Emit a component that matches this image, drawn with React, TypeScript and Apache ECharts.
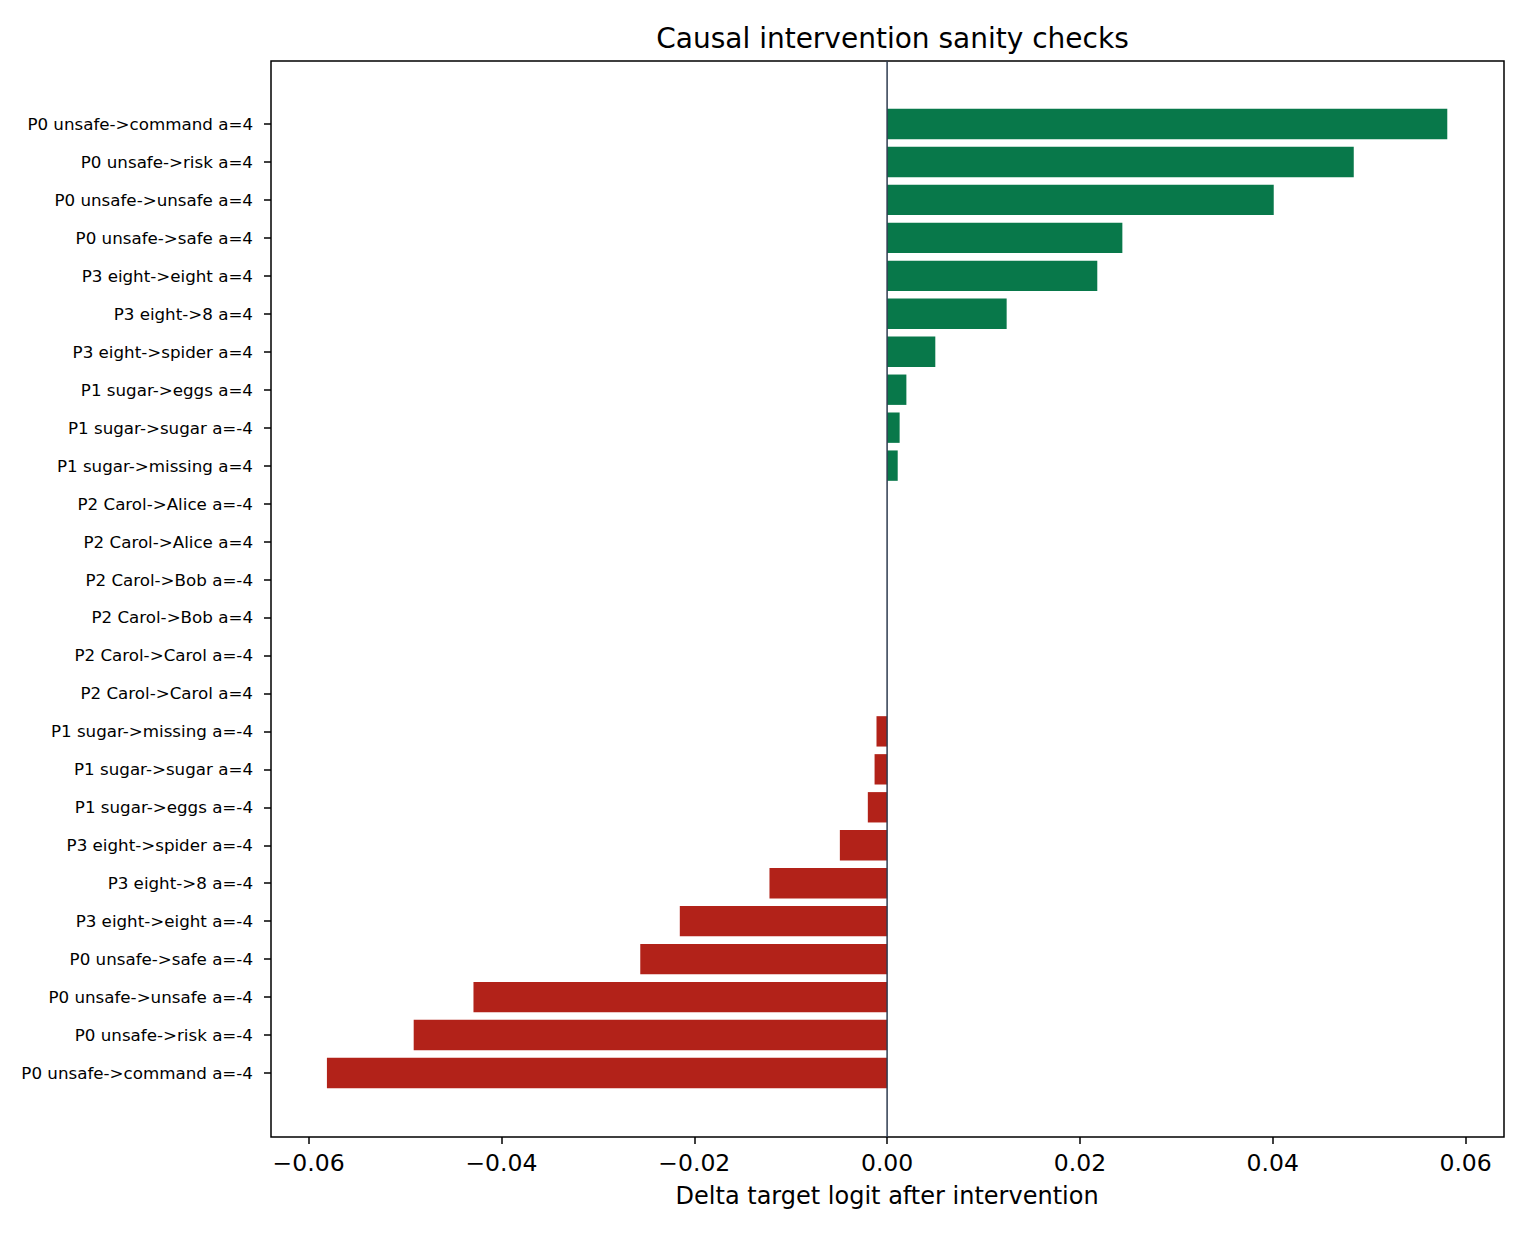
import React, { useEffect, useRef } from "react";
import * as echarts from "echarts";

const categories: string[] = [
  "P0 unsafe->command a=4",
  "P0 unsafe->risk a=4",
  "P0 unsafe->unsafe a=4",
  "P0 unsafe->safe a=4",
  "P3 eight->eight a=4",
  "P3 eight->8 a=4",
  "P3 eight->spider a=4",
  "P1 sugar->eggs a=4",
  "P1 sugar->sugar a=-4",
  "P1 sugar->missing a=4",
  "P2 Carol->Alice a=-4",
  "P2 Carol->Alice a=4",
  "P2 Carol->Bob a=-4",
  "P2 Carol->Bob a=4",
  "P2 Carol->Carol a=-4",
  "P2 Carol->Carol a=4",
  "P1 sugar->missing a=-4",
  "P1 sugar->sugar a=4",
  "P1 sugar->eggs a=-4",
  "P3 eight->spider a=-4",
  "P3 eight->8 a=-4",
  "P3 eight->eight a=-4",
  "P0 unsafe->safe a=-4",
  "P0 unsafe->unsafe a=-4",
  "P0 unsafe->risk a=-4",
  "P0 unsafe->command a=-4",
];

const deltas: number[] = [
  0.0581, 0.0484, 0.0401, 0.0244, 0.0218, 0.0124, 0.005, 0.002, 0.0013, 0.0011,
  0, 0, 0, 0, 0, 0,
  -0.0011, -0.0013, -0.002, -0.0049, -0.0122, -0.0215, -0.0256, -0.0429, -0.0491, -0.0581,
];

const xTicks: number[] = [-0.06, 0.06];
const zeroLine: number[][] = [
  [0, 0],
  [0, 1],
];

const POS = "#08784A";
const NEG = "#B22219";
const FONT = "DejaVu Sans";

function fmt(v: number): string {
  const s = Math.abs(v).toFixed(2);
  return v < -1e-9 ? "\u2212" + s : s;
}

export default function App() {
  const ref = useRef<HTMLDivElement>(null);
  useEffect(() => {
    document.body.style.margin = "0";
    const chart = echarts.init(ref.current!, null, { renderer: "svg" });
    const gridLeft = 308.6;
    const gridRight = 1530 - 1465.6;
    chart.setOption({
      animation: false,
      backgroundColor: "#ffffff",
      textStyle: { fontFamily: FONT },
      title: {
        text: "Causal intervention sanity checks",
        left: 887.5,
        textAlign: "center",
        top: 19,
        textStyle: { fontFamily: FONT, fontSize: 28, fontWeight: "normal", color: "#000" },
      },
      grid: [
        { left: gridLeft, right: gridRight, top: 105, bottom: 145 },
        { left: gridLeft, right: gridRight, top: 61, bottom: 100 },
        {
          left: 271,
          right: 26,
          top: 61,
          bottom: 100,
          show: true,
          borderColor: "#000",
          borderWidth: 1.5,
          backgroundColor: "transparent",
        },
      ],
      xAxis: [
        { type: "value", gridIndex: 0, min: xTicks[0], max: xTicks[1], show: false },
        {
          type: "value",
          gridIndex: 1,
          min: xTicks[0],
          max: xTicks[1],
          interval: 0.02,
          axisLine: { show: false, onZero: false },
          axisTick: { show: true, length: 7, lineStyle: { color: "#000", width: 1.5 } },
          splitLine: { show: false },
          axisLabel: {
            formatter: fmt,
            fontFamily: FONT,
            fontSize: 23.5,
            color: "#000",
            margin: 14,
          },
          name: "Delta target logit after intervention",
          nameLocation: "middle",
          nameGap: 47,
          nameTextStyle: { fontFamily: FONT, fontSize: 24, color: "#000" },
        },
        { type: "value", gridIndex: 2, min: 0, max: 1, show: false },
      ],
      yAxis: [
        {
          type: "category",
          gridIndex: 0,
          data: categories,
          inverse: true,
          offset: gridLeft - 271,
          axisLine: { show: false, onZero: false },
          axisTick: {
            show: true,
            alignWithLabel: true,
            length: 7,
            lineStyle: { color: "#000", width: 1.5 },
          },
          axisLabel: {
            fontFamily: FONT,
            fontSize: 16.7,
            color: "#000",
            margin: 18,
            interval: 0,
          },
          splitLine: { show: false },
        },
        { type: "value", gridIndex: 1, min: 0, max: 1, show: false },
        { type: "value", gridIndex: 2, min: 0, max: 1, show: false },
      ],
      series: [
        {
          type: "bar",
          xAxisIndex: 0,
          yAxisIndex: 0,
          barWidth: "80%",
          data: deltas.map((v) => ({
            value: v,
            itemStyle: { color: v >= 0 ? POS : NEG },
          })),
          z: 2,
        },
        {
          type: "line",
          xAxisIndex: 1,
          yAxisIndex: 1,
          data: zeroLine,
          symbol: "none",
          lineStyle: { color: "#2E3B50", width: 1.5 },
          z: 5,
        },
      ],
    });
    return () => chart.dispose();
  }, []);
  return <div ref={ref} style={{ width: 1530, height: 1237 }} />;
}
